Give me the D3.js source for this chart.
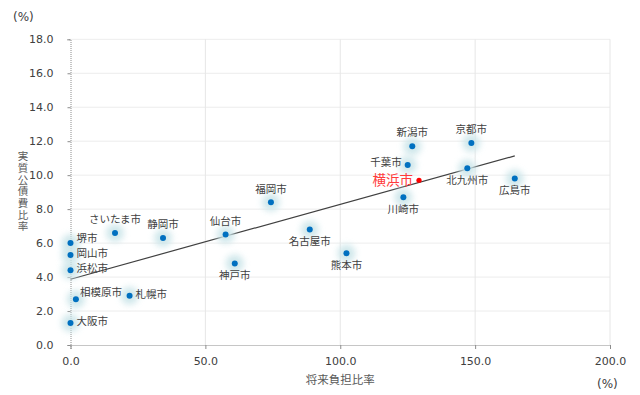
<!DOCTYPE html>
<html>
<head>
<meta charset="utf-8">
<script src="https://cdn.jsdelivr.net/npm/d3@7"></script>
<style>
  body { margin: 0; background: #fff; }
  text { font-family: "DejaVu Sans", Verdana, sans-serif; }
  .lbl { font-family: "Noto Sans CJK JP", sans-serif; }
</style>
</head>
<body>
<div id="chart"></div>
<script>
// 政令市の将来負担比率 (x) と 実質公債費比率 (y)
var cities = ["堺市", "岡山市", "浜松市", "相模原市", "札幌市", "大阪市", "さいたま市", "静岡市",
  "仙台市", "神戸市", "福岡市", "名古屋市", "熊本市", "川崎市", "横浜市", "千葉市",
  "新潟市", "京都市", "北九州市", "広島市"];
var burdenRatio = [0.0, 0.0, 0.0, 2.0, 21.9, 0.0, 16.5, 34.3,
  57.5, 60.9, 74.3, 88.7, 102.3, 123.4, 129.2, 125.0,
  126.7, 148.6, 147.1, 164.7];
var debtRatio = [6.0, 5.3, 4.4, 2.7, 2.9, 1.3, 6.6, 6.3,
  6.5, 4.8, 8.4, 6.8, 5.4, 8.7, 9.7, 10.6,
  11.7, 11.9, 10.4, 9.8];
var labelSide = ["upright", "right", "right", "topright", "right", "right", "top", "top",
  "top", "bottom", "top", "bottom", "bottom", "bottom", "left", "upleft",
  "top", "top", "bottom", "bottom"];
var highlight = "横浜市";
var xTicks = [0, 50, 100, 150, 200];
var yTicks = [0, 2, 4, 6, 8, 10, 12, 14, 16, 18];

var width = 640, height = 395;
var margin = { left: 70.5, right: 30, top: 39.3, bottom: 50 };

var svg = d3.select("#chart").append("svg").attr("width", width).attr("height", height);

var defs = svg.append("defs");
defs.append("filter").attr("id", "glow").attr("x", "-100%").attr("y", "-100%")
  .attr("width", "300%").attr("height", "300%")
  .append("feGaussianBlur").attr("stdDeviation", 3);

var x = d3.scaleLinear().domain([0, 200]).range([margin.left, width - margin.right]);
var y = d3.scaleLinear().domain([0, 18]).range([height - margin.bottom, margin.top]);

// grid
svg.append("g").selectAll("line").data(yTicks.slice(1)).enter().append("line")
  .attr("x1", x(0)).attr("x2", x(200))
  .attr("y1", d => y(d)).attr("y2", d => y(d))
  .style("stroke", "#d9d9d9").style("stroke-dasharray", "1,1");
svg.append("g").selectAll("line").data(xTicks.slice(1)).enter().append("line")
  .attr("x1", d => x(d)).attr("x2", d => x(d))
  .attr("y1", y(0)).attr("y2", y(18))
  .style("stroke", "#e6e6e6");

// axes
var yAxis = svg.append("g").attr("transform", "translate(" + x(0) + ",0)")
  .call(d3.axisLeft(y).tickValues(yTicks).tickFormat(d3.format(".1f")).tickSize(3).tickPadding(14));
var xAxis = svg.append("g").attr("transform", "translate(0," + y(0) + ")")
  .call(d3.axisBottom(x).tickValues(xTicks).tickFormat(d3.format(".1f")).tickSize(4).tickPadding(8));
[yAxis, xAxis].forEach(function(a) {
  a.select(".domain").style("stroke", "#8c8c8c").style("stroke-dasharray", "1,1");
  a.selectAll(".tick line").style("stroke", "#8c8c8c");
  a.selectAll("text").style("font-size", "11px").style("fill", "#404040")
    .style("font-family", "'DejaVu Sans', sans-serif");
});

// regression trend line
var n = burdenRatio.length;
var mx = d3.mean(burdenRatio), my = d3.mean(debtRatio);
var sxy = 0, sxx = 0;
for (var i = 0; i < n; i++) {
  sxy += (burdenRatio[i] - mx) * (debtRatio[i] - my);
  sxx += (burdenRatio[i] - mx) * (burdenRatio[i] - mx);
}
var slope = sxy / sxx, icpt = my - slope * mx;
var xr = d3.extent(burdenRatio);
svg.append("line")
  .attr("x1", x(xr[0])).attr("y1", y(icpt + slope * xr[0]))
  .attr("x2", x(xr[1])).attr("y2", y(icpt + slope * xr[1]))
  .style("stroke", "#404040").style("stroke-width", 1.2);

var data = cities.map(function(c, i) {
  return { name: c, bx: burdenRatio[i], dy: debtRatio[i], side: labelSide[i] };
});
var normal = data.filter(d => d.name !== highlight);

// glow
svg.append("g").selectAll("circle").data(normal).enter().append("circle")
  .attr("cx", d => x(d.bx)).attr("cy", d => y(d.dy)).attr("r", 9)
  .style("fill", "#cbe5e9").style("opacity", 0.9).attr("filter", "url(#glow)");

svg.append("g").selectAll("circle").data(data).enter().append("circle")
  .attr("cx", d => x(d.bx)).attr("cy", d => y(d.dy))
  .attr("r", d => d.name === highlight ? 2.6 : 3)
  .style("fill", d => d.name === highlight ? "#ff0000" : "#0070c0");

// labels
var dxOf = { right: 6, upright: 6, topright: 4, left: -6, upleft: -6, top: 0, bottom: 0 };
var dyOf = { right: -1.5, upright: -4.5, topright: -7, left: 0, upleft: -3, top: -13.5, bottom: 12 };
svg.append("g").selectAll("text").data(data).enter().append("text")
  .attr("class", "lbl")
  .attr("x", d => x(d.bx) + dxOf[d.side])
  .attr("y", d => y(d.dy) + dyOf[d.side])
  .attr("dy", "0.35em")
  .attr("text-anchor", d => dxOf[d.side] > 0 ? "start" : dxOf[d.side] < 0 ? "end" : "middle")
  .style("font-size", d => d.name === highlight ? "13.5px" : "10.5px")
  .style("fill", d => d.name === highlight ? "#ff3b3b" : "#404040")
  .text(d => d.name);

// axis titles
svg.append("text").attr("class", "lbl")
  .attr("x", 23).attr("y", 151)
  .style("writing-mode", "vertical-rl").style("text-orientation", "upright")
  .style("letter-spacing", "1.2px")
  .style("font-size", "10.5px").style("fill", "#595959")
  .text("実質公債費比率");
svg.append("text").attr("class", "lbl").attr("x", (x(0) + x(200)) / 2).attr("y", 384)
  .attr("text-anchor", "middle").style("font-size", "11.5px").style("fill", "#595959")
  .text("将来負担比率");
svg.append("text").attr("x", 13).attr("y", 21).style("font-size", "12px").style("fill", "#404040")
  .text("(%)");
svg.append("text").attr("x", 597).attr("y", 388).style("font-size", "12px").style("fill", "#404040")
  .text("(%)");
</script>
</body>
</html>
